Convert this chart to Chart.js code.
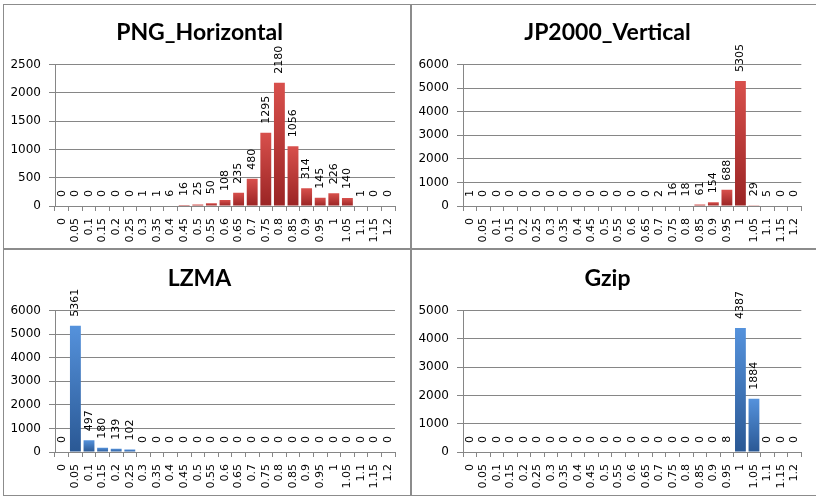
<!DOCTYPE html>
<html>
<head>
<meta charset="utf-8">
<script src="https://cdn.jsdelivr.net/npm/chart.js@4.4.0/dist/chart.umd.min.js"></script>
<style>
  body { margin: 0; background: #fff; width: 816px; height: 496px; overflow: hidden; position: relative; }
  .frame { position: absolute; left: 3px; top: 4px; width: 830px; height: 492px; border: 1px solid #8c8c8c; box-sizing: border-box; }
  .vline { position: absolute; left: 410px; top: 4px; width: 2px; height: 492px; background: #8c8c8c; }
  .hline { position: absolute; left: 3px; top: 248px; width: 830px; height: 2px; background: #8c8c8c; }
  canvas { position: absolute; }
</style>
</head>
<body>
<div class="frame"></div>
<div class="vline"></div>
<div class="hline"></div>
<canvas id="pngH" width="406" height="243" style="left:4px;top:5px"></canvas>
<canvas id="jpV" width="403" height="243" style="left:412px;top:5px"></canvas>
<canvas id="lzma" width="406" height="243" style="left:4px;top:251px"></canvas>
<canvas id="gzip" width="403" height="243" style="left:412px;top:251px"></canvas>
<script>
// histogram bins (ratio)
var categories = ['0','0.05','0.1','0.15','0.2','0.25','0.3','0.35','0.4','0.45','0.5','0.55','0.6',
  '0.65','0.7','0.75','0.8','0.85','0.9','0.95','1','1.05','1.1','1.15','1.2'];

var pngHorizontal = [0,0,0,0,0,0,1,1,6,16,25,50,108,235,480,1295,2180,1056,314,145,226,140,1,0,0];
var jp2000Vertical = [1,0,0,0,0,0,0,0,0,0,0,0,0,0,2,16,18,61,154,688,5305,29,5,0,0];
var lzmaValues = [0,5361,497,180,139,102,0,0,0,0,0,0,0,0,0,0,0,0,0,0,0,0,0,0,0];
var gzipValues = [0,0,0,0,0,0,0,0,0,0,0,0,0,0,0,0,0,0,0,8,4387,1884,0,0,0];

// y axis max / step for each panel
var yMaxes = [2500, 6000, 6000, 5000];
var ySteps = [500, 1000, 1000, 1000];

var gridGrey = '#868686';

// rotated value labels above bars
var barLabels = {
  id: 'barLabels',
  afterDatasetsDraw: function(chart) {
    var ctx = chart.ctx;
    var meta = chart.getDatasetMeta(0);
    var data = chart.data.datasets[0].data;
    ctx.save();
    ctx.font = '11px "DejaVu Sans"';
    ctx.fillStyle = '#000';
    ctx.textAlign = 'left';
    ctx.textBaseline = 'middle';
    meta.data.forEach(function(bar, i) {
      ctx.save();
      ctx.translate(bar.x, bar.y - 9);
      ctx.rotate(-Math.PI / 2);
      ctx.fillText(String(data[i]), 0, 0);
      ctx.restore();
    });
    ctx.restore();
  }
};

function barGradient(light, dark) {
  return function(c) {
    var chart = c.chart;
    var y = chart.scales.y;
    if (!y || c.raw === undefined) return dark;
    var top = y.getPixelForValue(c.raw);
    var base = y.getPixelForValue(0);
    if (!isFinite(top) || !isFinite(base)) return dark;
    if (base - top < 0.6) return 'rgba(0,0,0,0)';
    var g = chart.ctx.createLinearGradient(0, top, 0, base);
    g.addColorStop(0, light);
    g.addColorStop(1, dark);
    return g;
  };
}

function makeChart(id, title, values, yMax, step, light, dark, rightPad) {
  var ctx = document.getElementById(id).getContext('2d');
  return new Chart(ctx, {
    type: 'bar',
    data: {
      labels: categories,
      datasets: [{
        data: values,
        backgroundColor: barGradient(light, dark),
        barPercentage: 0.8,
        categoryPercentage: 1
      }]
    },
    options: {
      responsive: false,
      animation: false,
      layout: { padding: { left: 0, right: rightPad, top: 0, bottom: 0 } },
      plugins: {
        legend: { display: false },
        tooltip: { enabled: false },
        title: {
          display: true,
          text: title,
          color: '#000',
          font: { family: 'Lato', size: 23, weight: 'bold' },
          padding: { top: 14, bottom: 18 }
        }
      },
      scales: {
        x: {
          grid: { offset: true, drawOnChartArea: false, tickLength: 5, color: gridGrey },
          border: { color: gridGrey },
          ticks: {
            color: '#000',
            autoSkip: false,
            minRotation: 90,
            maxRotation: 90,
            padding: 7,
            font: { family: '"DejaVu Sans"', size: 11 }
          },
          afterFit: function(s) { s.height = 42; }
        },
        y: {
          min: 0,
          max: yMax,
          grid: { color: gridGrey, tickLength: 6 },
          border: { color: gridGrey },
          ticks: {
            stepSize: step,
            color: '#000',
            padding: 8,
            font: { family: '"DejaVu Sans"', size: 12 },
            callback: function(v) { return String(v); }
          },
          afterFit: function(s) { s.width = 51; }
        }
      }
    },
    plugins: [barLabels]
  });
}

var red1 = '#d8504c', red2 = '#9a2424';
var blue1 = '#5592dc', blue2 = '#2a5894';

makeChart('pngH', 'PNG_Horizontal', pngHorizontal, yMaxes[0], ySteps[0], red1, red2, 15);
makeChart('jpV', 'JP2000_Vertical', jp2000Vertical, yMaxes[1], ySteps[1], red1, red2, 12);
makeChart('lzma', 'LZMA', lzmaValues, yMaxes[2], ySteps[2], blue1, blue2, 15);
makeChart('gzip', 'Gzip', gzipValues, yMaxes[3], ySteps[3], blue1, blue2, 12);
</script>
</body>
</html>
